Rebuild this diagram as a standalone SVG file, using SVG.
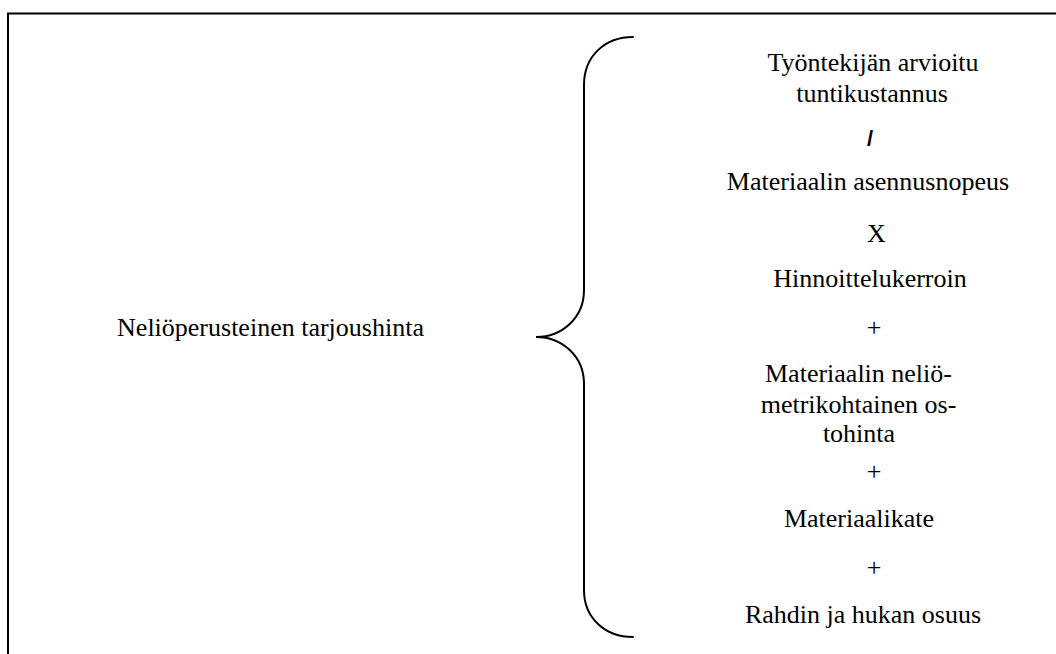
<svg xmlns="http://www.w3.org/2000/svg" width="1056" height="654" viewBox="0 0 1056 654">
  <style>
    .t { font-family: "Liberation Serif", "Times New Roman", serif; font-size: 26px; fill: #000; text-anchor: middle; }
    .op { font-family: "Liberation Sans", Arial, sans-serif; font-size: 22px; font-weight: bold; fill: #000; text-anchor: middle; }
    .frame { fill: none; stroke: #000; stroke-width: 2; }
    .brace { fill: none; stroke: #000; stroke-width: 2; stroke-linecap: round; }
  </style>
  <rect width="1056" height="654" fill="#fff"/>

  <!-- outer frame: top and left edges -->
  <path class="frame" d="M8,654 L8,13.5 L1056,13.5"/>

  <!-- left-hand term -->
  <g id="total">
    <text class="t" x="270.5" y="336">Neliöperusteinen tarjoushinta</text>
  </g>

  <!-- curly brace joining the total to its components -->
  <g id="connectors">
    <path class="brace" d="M633,37 C605,37 584,56 584,85 L584,290 C584,318 562,337 536,337 C562,337 584,356 584,384 L584,590 C584,618 605,637 633,637"/>
  </g>

  <!-- components of the formula -->
  <g id="labour-cost">
    <text class="t" x="873" y="71">Työntekijän arvioitu</text>
    <text class="t" x="872" y="102">tuntikustannus</text>
  </g>
  <g id="op-divide">
    <text class="op" x="870" y="146">/</text>
  </g>
  <g id="install-speed">
    <text class="t" x="868" y="190">Materiaalin asennusnopeus</text>
  </g>
  <g id="op-multiply">
    <text class="t" x="876.5" y="242">X</text>
  </g>
  <g id="pricing-factor">
    <text class="t" x="870" y="287">Hinnoittelukerroin</text>
  </g>
  <g id="op-plus-1">
    <text class="t" x="874" y="336">+</text>
  </g>
  <g id="material-price">
    <text class="t" x="858.5" y="382">Materiaalin neliö-</text>
    <text class="t" x="858.5" y="413">metrikohtainen os-</text>
    <text class="t" x="859" y="442">tohinta</text>
  </g>
  <g id="op-plus-2">
    <text class="t" x="874" y="480">+</text>
  </g>
  <g id="material-margin">
    <text class="t" x="859" y="527">Materiaalikate</text>
  </g>
  <g id="op-plus-3">
    <text class="t" x="874" y="576">+</text>
  </g>
  <g id="freight-waste">
    <text class="t" x="863" y="623">Rahdin ja hukan osuus</text>
  </g>
</svg>
